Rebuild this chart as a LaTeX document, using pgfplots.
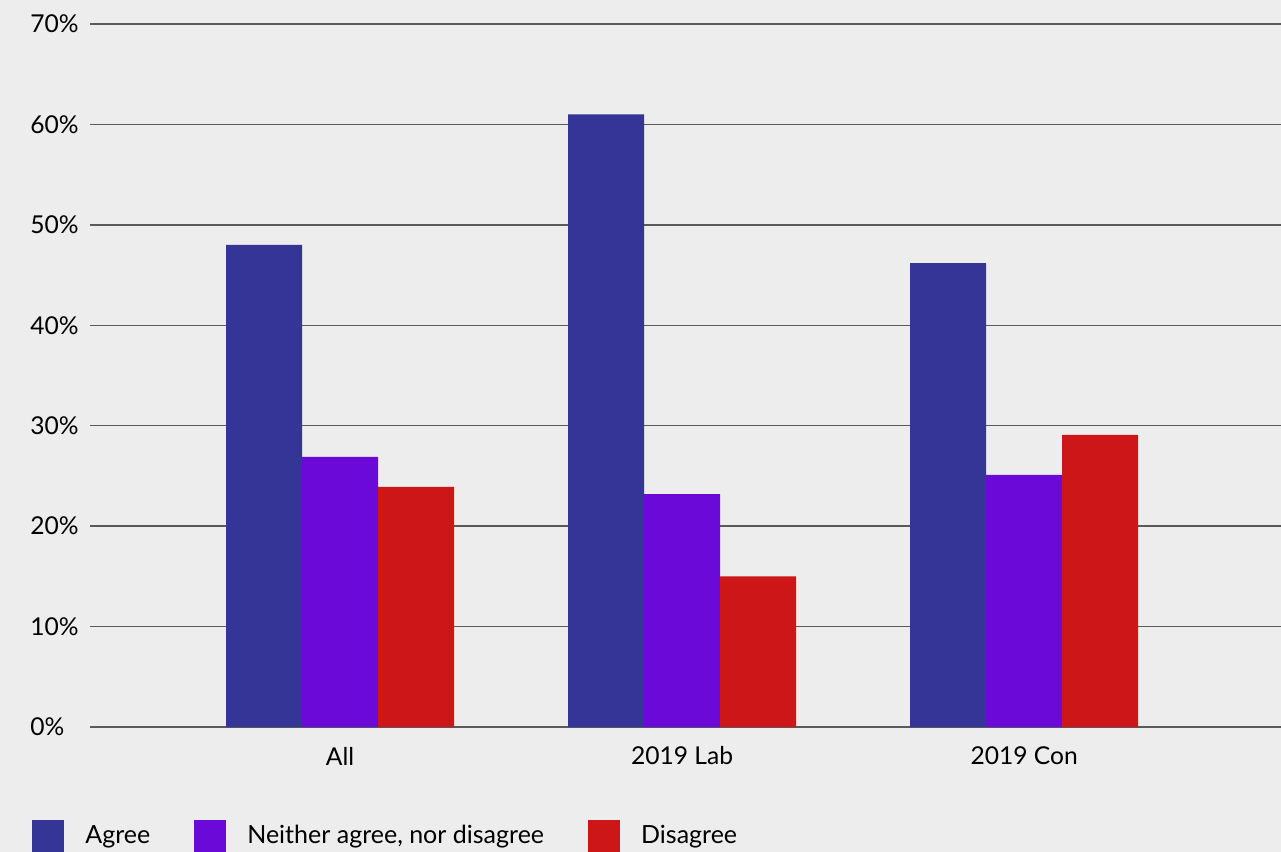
\documentclass[border=0pt]{standalone}
\usepackage{pgfplots}
\pgfplotsset{compat=1.18}
\usepackage{fontspec}
\setmainfont{Lato}
\definecolor{bg}{HTML}{EDEDED}
\definecolor{cagree}{HTML}{353597}
\definecolor{cneither}{HTML}{6B0AD8}
\definecolor{cdis}{HTML}{CC1618}
\definecolor{gridc}{HTML}{5A5A5A}
\begin{document}
\begin{tikzpicture}
\fill[bg] (-45pt,-62.5pt) rectangle (595.5pt,363.5pt);
\useasboundingbox (-45pt,-62.5pt) rectangle (595.5pt,363.5pt);
\begin{axis}[
  scale only axis,
  width=595.5pt, height=351.5pt,
  ybar=0pt, bar width=38pt,
  xmin=-0.731, xmax=2.751,
  ymin=0, ymax=70,
  xtick={0,1,2},
  xticklabels={All,2019 Lab,2019 Con},
  ytick={0,10,20,30,40,50,60,70},
  yticklabels={0\%,10\%,20\%,30\%,40\%,50\%,60\%,70\%},
  axis line style={draw=none},
  major tick length=0pt,
  ymajorgrids,
  grid style={gridc, line width=0.7pt},
  font=\fontsize{12.3}{14}\selectfont,
  yticklabel style={anchor=west, inner sep=0pt, xshift=-30pt},
  xticklabel style={anchor=center, inner sep=0pt, yshift=-14.5pt},
  legend columns=3,
  legend style={at={(rel axis cs:-0.0487,-0.155)}, anchor=west, draw=none, fill=none, inner sep=0pt,
    /tikz/every even column/.append style={column sep=20pt},
    font=\fontsize{12.5}{14}\selectfont},
  legend image code/.code={\fill[#1] (0pt,-8pt) rectangle (16pt,8pt); \path (24.5pt,0pt);},
  every axis plot/.append style={draw=none},
]
\addplot[fill=cagree] coordinates {(0,48) (1,61) (2,46.2)};
\addplot[fill=cneither] coordinates {(0,26.9) (1,23.2) (2,25.1)};
\addplot[fill=cdis] coordinates {(0,23.9) (1,15) (2,29.1)};
\legend{Agree,{Neither agree, nor disagree},Disagree}
\end{axis}
\end{tikzpicture}
\end{document}
